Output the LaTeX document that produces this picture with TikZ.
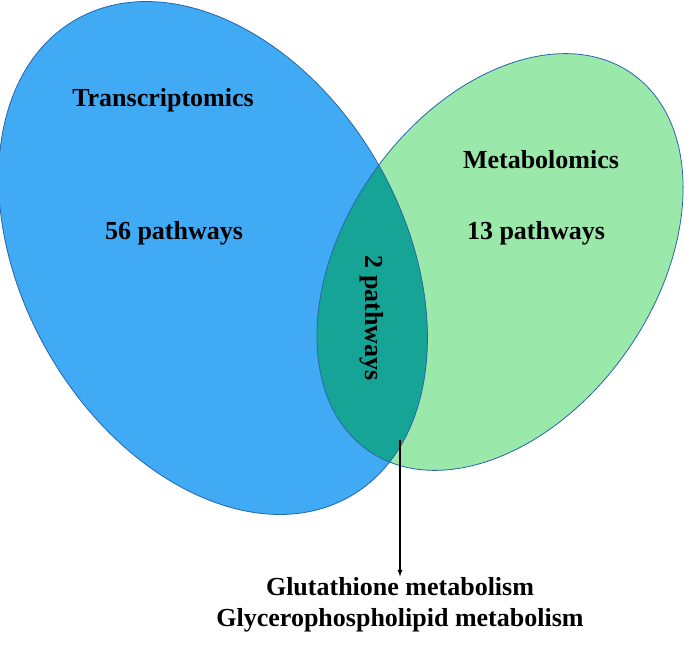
\documentclass[tikz,border=0pt]{standalone}
\usepackage{fontspec}
\setmainfont{Liberation Serif}
\begin{document}
\begin{tikzpicture}[x=1pt,y=1pt,
  lab/.style={font=\fontsize{26}{31}\selectfont\bfseries, align=center, inner sep=1pt}]
\useasboundingbox (0,0) rectangle (685,649);
\definecolor{blu}{RGB}{64,170,245}
\definecolor{grn}{RGB}{154,232,170}
\definecolor{tea}{RGB}{22,164,150}
\definecolor{bdr}{RGB}{40,100,170}
\fill[blu] (213,391) ellipse[x radius=190, y radius=275, rotate=30];
\fill[grn] (500,387) ellipse[x radius=155, y radius=230, rotate=-35];
\begin{scope}
\clip (213,391) ellipse[x radius=190, y radius=275, rotate=30];
\fill[tea] (500,387) ellipse[x radius=155, y radius=230, rotate=-35];
\end{scope}
\draw[bdr, line width=0.8pt] (213,391) ellipse[x radius=190, y radius=275, rotate=30];
\draw[bdr, line width=0.8pt] (500,387) ellipse[x radius=155, y radius=230, rotate=-35];
\node[lab] (t) at (163,549) {Transcriptomics};
\node[lab] (t56) at (174,416) {56 pathways};
\node[lab] (m) at (541,489) {Metabolomics};
\node[lab] (m13) at (536,416) {13 pathways};
\node[lab, rotate=-90] (two) at (372,331) {2 pathways};
\coordinate (s) at (400,209);
\node[lab] (out) at (400,44) {Glutathione metabolism\\Glycerophospholipid metabolism};
\draw[-latex, line width=1.3pt] (s) -- (out.north);
\end{tikzpicture}
\end{document}
